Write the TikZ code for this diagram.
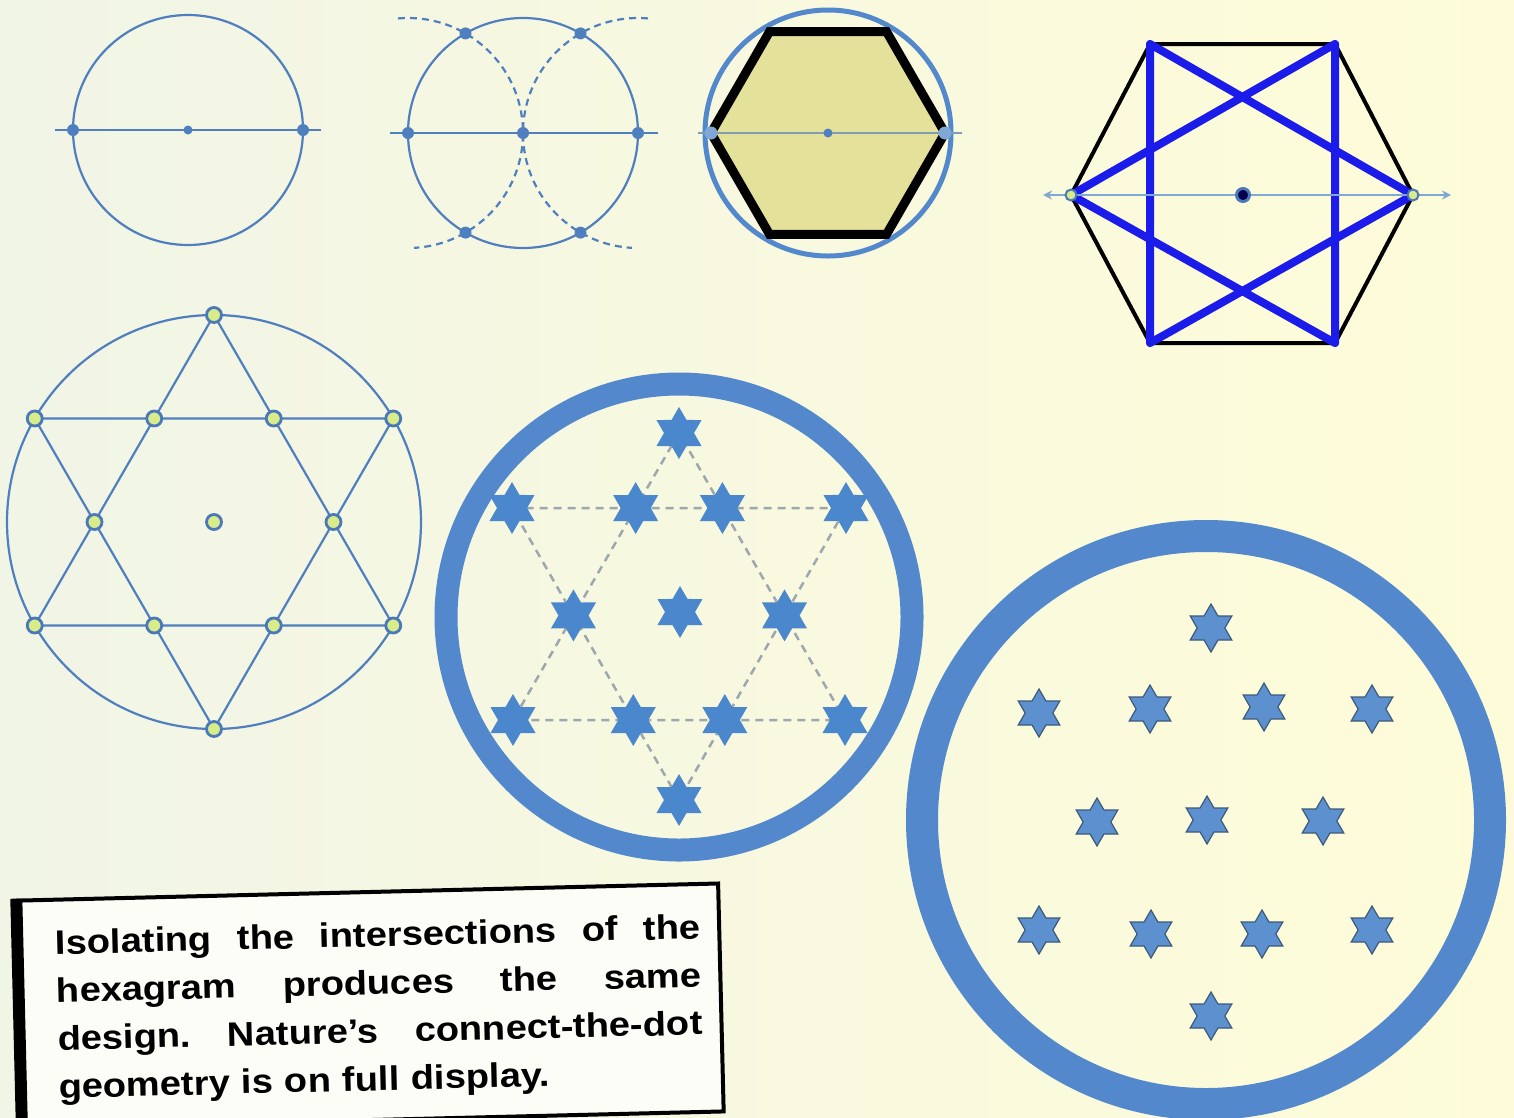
\documentclass[tikz,border=0pt]{standalone}
\usepackage{fontspec}
\setmainfont{Liberation Sans}
\newfontfamily\notefont{Liberation Sans}[FakeStretch=1.12]
\usepackage{tikz}
\usetikzlibrary{arrows.meta,shapes.geometric,calc}
\definecolor{BgLeft}{HTML}{F1F5E6}
\definecolor{BgRight}{HTML}{FEFCD8}
\definecolor{LineBlue}{HTML}{4F7FBF}
\definecolor{RingBlue}{HTML}{5389CC}
\definecolor{DotBlue}{HTML}{4A78B8}
\definecolor{DotGreen}{HTML}{D8EC8A}
\definecolor{AxisGray}{HTML}{7F9DB5}
\definecolor{AxisBlue}{HTML}{7FA8D6}
\definecolor{HexFill}{HTML}{E4E19A}
\definecolor{StarLine}{HTML}{1C1CEA}
\definecolor{StarBlue}{HTML}{4A87CC}
\definecolor{StarBlueB}{HTML}{5C90CF}
\definecolor{StarEdge}{HTML}{3D5A7A}
\definecolor{DashGray}{HTML}{9DA7AE}
\definecolor{NoteFill}{HTML}{FDFDF8}
\newcommand\fullline[1]{\leavevmode\hbox to 645pt{#1}}

\begin{document}
\begin{tikzpicture}[x=1pt,y=-1pt,
  guide/.style={draw=LineBlue,line width=2.2pt},
  arcguide/.style={guide,dash pattern=on 7pt off 5pt},
  dot/.style={circle,fill=LineBlue,inner sep=0pt,minimum size=12pt},
  smalldot/.style={dot,minimum size=9pt},
  ringdot/.style={circle,draw=DotBlue,fill=DotGreen,line width=2.8pt,inner sep=0pt,minimum size=15pt},
  ring/.style={draw=RingBlue},
  hexstar/.style={star,star points=6,star point ratio=1.73,fill=StarBlue,inner sep=0pt,minimum size=52pt},
  edgestar/.style={hexstar,fill=StarBlueB,draw=StarEdge,line width=1.2pt,minimum size=48pt},
  notebox/.style={draw=black,line width=4pt,fill=NoteFill,minimum width=700pt,minimum height=228pt},
  notetext/.style={text width=645pt,align=left,inner sep=0pt,font=\notefont\bfseries\fontsize{34}{48}\selectfont}]
  \useasboundingbox (0,0) rectangle (1514,1117);
  \shade[left color=BgLeft,right color=BgRight] (0,0) rectangle (1514,1117);

  % circle with its diameter
  \coordinate (c1) at (188,130);
  \coordinate (c1l) at (73,130);
  \coordinate (c1r) at (303,130);
  \draw[guide] (c1) circle (115);
  \draw[guide] ($(c1l)+(-18,0)$) -- ($(c1r)+(18,0)$);
  \node[dot] (d1l) at (c1l) {};
  \node[smalldot] (d1c) at (c1) {};
  \node[dot] (d1r) at (c1r) {};

  % two arcs from the ends of the diameter
  \coordinate (c2) at (523,133);
  \coordinate (c2l) at (408,133);
  \coordinate (c2r) at (638,133);
  \draw[guide] (c2) circle (115);
  \draw[guide] ($(c2l)+(-18,0)$) -- ($(c2r)+(20,0)$);
  \draw[arcguide] ($(c2l)+(-95:115)$) arc[start angle=-95,end angle=87,radius=115];
  \draw[arcguide] ($(c2r)+(275:115)$) arc[start angle=275,end angle=93,radius=115];
  \foreach \p/\n in {c2l/d2l,c2/d2c,c2r/d2r} \node[dot] (\n) at (\p) {};
  \node[dot] (d2a) at ($(c2l)+(-60:115)$) {};
  \node[dot] (d2b) at ($(c2r)+(240:115)$) {};
  \node[dot] (d2e) at ($(c2l)+(60:115)$) {};
  \node[dot] (d2f) at ($(c2r)+(120:115)$) {};

  % hexagon in the circle
  \coordinate (c3) at (828,133);
  \draw[ring,line width=5pt] (c3) circle (123);
  \draw[line width=9pt,fill=HexFill] ($(c3)+(0:117)$) -- ($(c3)+(60:117)$) -- ($(c3)+(120:117)$)
    -- ($(c3)+(180:117)$) -- ($(c3)+(240:117)$) -- ($(c3)+(300:117)$) -- cycle;
  \draw[draw=AxisGray,line width=2pt] ($(c3)+(-130,0)$) -- ($(c3)+(134,0)$);
  \node[dot,fill=AxisBlue,minimum size=13pt] (d3l) at ($(c3)+(-117,0)$) {};
  \node[smalldot] (d3c) at (c3) {};
  \node[dot,fill=AxisBlue,minimum size=13pt] (d3r) at ($(c3)+(117,0)$) {};

  % hexagon and hexagram
  \coordinate (h4l) at (1071,195);
  \coordinate (h4tl) at (1150,44);
  \coordinate (h4tr) at (1335,44);
  \coordinate (h4r) at (1413,195);
  \coordinate (h4br) at (1335,343);
  \coordinate (h4bl) at (1150,343);
  \coordinate (c4) at (1243,195);
  \draw[line width=4pt,line join=round] (h4l) -- (h4tl) -- (h4tr) -- (h4r) -- (h4br) -- (h4bl) -- cycle;
  \draw[StarLine,line width=8pt,line join=round] (h4l) -- (h4tr) -- (h4br) -- cycle;
  \draw[StarLine,line width=8pt,line join=round] (h4r) -- (h4tl) -- (h4bl) -- cycle;
  \draw[draw=AxisBlue,line width=2pt,{Stealth[length=9pt,width=9pt]}-{Stealth[length=9pt,width=9pt]}]
    ($(h4l)+(-28,0)$) -- ($(h4r)+(38,0)$);
  \node[ringdot,minimum size=11pt,line width=2pt] (d4l) at (h4l) {};
  \node[ringdot,minimum size=11pt,line width=2pt] (d4r) at (h4r) {};
  \node[circle,draw=DotBlue,fill=black!70!blue,line width=3pt,inner sep=0pt,minimum size=13pt] (d4c) at (c4) {};

  % hexagram in the circle
  \coordinate (c5) at (214,522);
  \foreach \a/\n in {-90/o1,-30/o2,30/o3,90/o4,150/o5,210/o6}
    \coordinate (\n) at ($(c5)+(\a:207)$);
  \foreach \a/\n in {-120/i1,-60/i2,0/i3,60/i4,120/i5,180/i6}
    \coordinate (\n) at ($(c5)+(\a:119.5)$);
  \draw[guide] (c5) circle (207);
  \draw[guide] (o1) -- (o3) -- (o5) -- cycle;
  \draw[guide] (o2) -- (o4) -- (o6) -- cycle;
  \foreach \n in {o1,o2,o3,o4,o5,o6,i1,i2,i3,i4,i5,i6,c5}
    \node[ringdot] (p-\n) at (\n) {};

  % stars on the intersections
  \coordinate (c6) at (679,617);
  \draw[ring,line width=23pt] (c6) circle (233);
  \coordinate (t6) at (679,433);
  \coordinate (tl6) at (512,508);
  \coordinate (tr6) at (846,508);
  \coordinate (bl6) at (513,720);
  \coordinate (br6) at (845,720);
  \coordinate (b6) at (679,800);
  \coordinate (m6a) at (intersection of t6--bl6 and tl6--tr6);
  \coordinate (m6b) at (intersection of t6--br6 and tl6--tr6);
  \coordinate (m6c) at (intersection of t6--bl6 and b6--tl6);
  \coordinate (m6d) at (intersection of t6--br6 and b6--tr6);
  \coordinate (m6e) at (intersection of bl6--br6 and b6--tl6);
  \coordinate (m6f) at (intersection of bl6--br6 and b6--tr6);
  \coordinate (m6) at (680,612);
  \draw[DashGray,line width=2.5pt,dash pattern=on 8pt off 6pt] (t6) -- (bl6) -- (br6) -- cycle;
  \draw[DashGray,line width=2.5pt,dash pattern=on 8pt off 6pt] (b6) -- (tl6) -- (tr6) -- cycle;
  \foreach \n in {t6,tl6,tr6,bl6,br6,b6,m6a,m6b,m6c,m6d,m6e,m6f,m6}
    \node[hexstar] (s-\n) at (\n) {};

  % stars alone
  \coordinate (c7) at (1206,820);
  \draw[ring,line width=32pt] (c7) circle (284);
  \foreach \x/\y [count=\k] in {1211/628,1039/713,1150/709,1264/707,1372/709,
      1097/822,1207/820,1323/821,1039/930,1151/934,1262/934,1372/930,1211/1016}
    \node[edgestar] (u\k) at (\x,\y) {};

  % note
  \begin{scope}[shift={(371,1006)},rotate=1.4,transform shape]
    \node[notebox] (box) at (0,0) {};
    \draw[line width=12pt] (box.north west) -- (box.south west);
    \node[notetext] (note) at (8.5,4) {%
      \fullline{Isolating\hfill the\hfill intersections\hfill of\hfill the}\\
      \fullline{hexagram\hfill produces\hfill the\hfill same}\\
      \fullline{design.\hfill Nature’s\hfill connect-the-dot}\\
      geometry is on full display.};
  \end{scope}
\end{tikzpicture}
\end{document}
